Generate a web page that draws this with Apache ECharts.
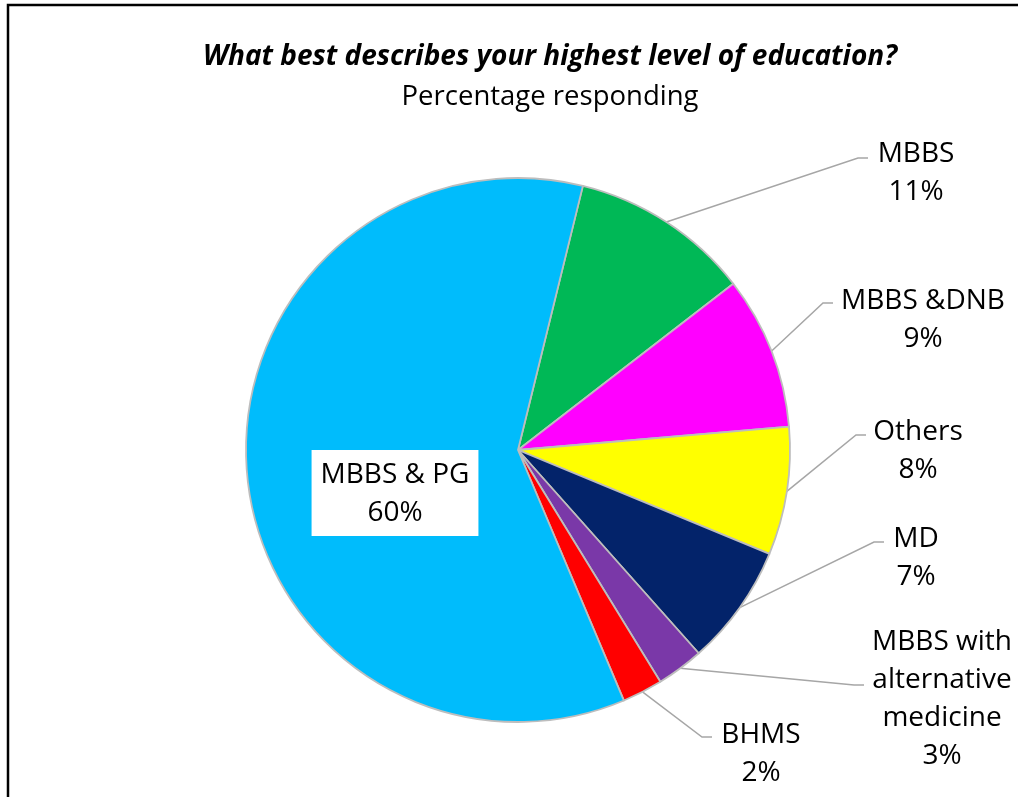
<!DOCTYPE html>
<html>
<head>
<meta charset="utf-8">
<script src="https://cdn.jsdelivr.net/npm/echarts@6/dist/echarts.min.js"></script>
<style>
html,body{margin:0;padding:0;background:#fff;}
#chart{width:1018px;height:797px;}
</style>
</head>
<body>
<div id="chart"></div>
<script>
// ---- data (clockwise order starting just right of 12 o'clock) ----
var categories = ['MBBS', 'MBBS &DNB', 'Others', 'MD', 'MBBS with\nalternative\nmedicine', 'BHMS', 'MBBS & PG'];
var percentages = [10.7, 9.1, 7.6, 7.2, 2.8, 2.4, 60.2];
var sliceColors = ['#00B856', '#FF00FF', '#FFFF00', '#03236A', '#7A38A8', '#FF0000', '#00BCFC'];
var titleText = 'What best describes your highest level of education?';
var subtitleText = 'Percentage responding';

// ---- label placement (centre x, top y of text block, leader line y / end x) ----
var labelPlace = [
  {x: 916, y: 135, ly: 158, lx: 868},
  {x: 923, y: 282, ly: 303, lx: 833},
  {x: 918, y: 413, ly: 435, lx: 866},
  {x: 916, y: 520, ly: 542, lx: 884},
  {x: 942, y: 623, ly: 685, lx: 864},
  {x: 761, y: 716, ly: 737, lx: 712},
  {x: 395, y: 450, inside: true}
];

var FONT = '"Open Sans", "Noto Sans", sans-serif';
var chart = echarts.init(document.getElementById('chart'));

var data = categories.map(function (c, i) {
  var d = { name: c, value: percentages[i], itemStyle: { color: sliceColors[i] } };
  if (labelPlace[i].inside) {
    d.label = { position: 'inside', backgroundColor: '#fff', padding: [6, 9, 4, 9] };
    d.labelLine = { show: false };
  }
  return d;
});

chart.setOption({
  backgroundColor: '#ffffff',
  animation: false,
  graphic: [
    { type: 'rect', shape: { x: 8, y: 5, width: 1040, height: 830 },
      style: { fill: 'none', stroke: '#000', lineWidth: 2.5 }, z: 0 },
    { type: 'text', x: 550, y: 57,
      style: { text: titleText, align: 'center', verticalAlign: 'middle',
        font: 'italic bold 28px ' + FONT, fill: '#000' } },
    { type: 'text', x: 550, y: 97,
      style: { text: subtitleText, align: 'center', verticalAlign: 'middle',
        font: '27.5px ' + FONT, fill: '#000' } }
  ],
  series: [{
    type: 'pie',
    center: [518, 450],
    radius: 272,
    startAngle: 76.2,
    clockwise: true,
    avoidLabelOverlap: false,
    data: data,
    itemStyle: { borderColor: '#bdbdbd', borderWidth: 1.8 },
    label: {
      show: true,
      position: 'outside',
      formatter: function (p) {
        return '{c|' + p.name + '\n' + Math.round(p.value) + '%}';
      },
      rich: {
        c: { align: 'center', fontFamily: FONT, fontSize: 28, lineHeight: 38, color: '#000' }
      }
    },
    labelLine: { show: true, length: 20, length2: 10,
      lineStyle: { color: '#a6a6a6', width: 1.5 } },
    labelLayout: function (params) {
      var lp = labelPlace[params.dataIndex];
      if (lp.inside) {
        return { x: lp.x, y: lp.y, align: 'center', verticalAlign: 'top' };
      }
      var p0 = params.labelLinePoints ? params.labelLinePoints[0] : [lp.lx - 10, lp.ly];
      return {
        x: lp.x, y: lp.y, align: 'center', verticalAlign: 'top',
        labelLinePoints: [p0, [lp.lx - 10, lp.ly], [lp.lx, lp.ly]]
      };
    }
  }]
});
</script>
</body>
</html>
